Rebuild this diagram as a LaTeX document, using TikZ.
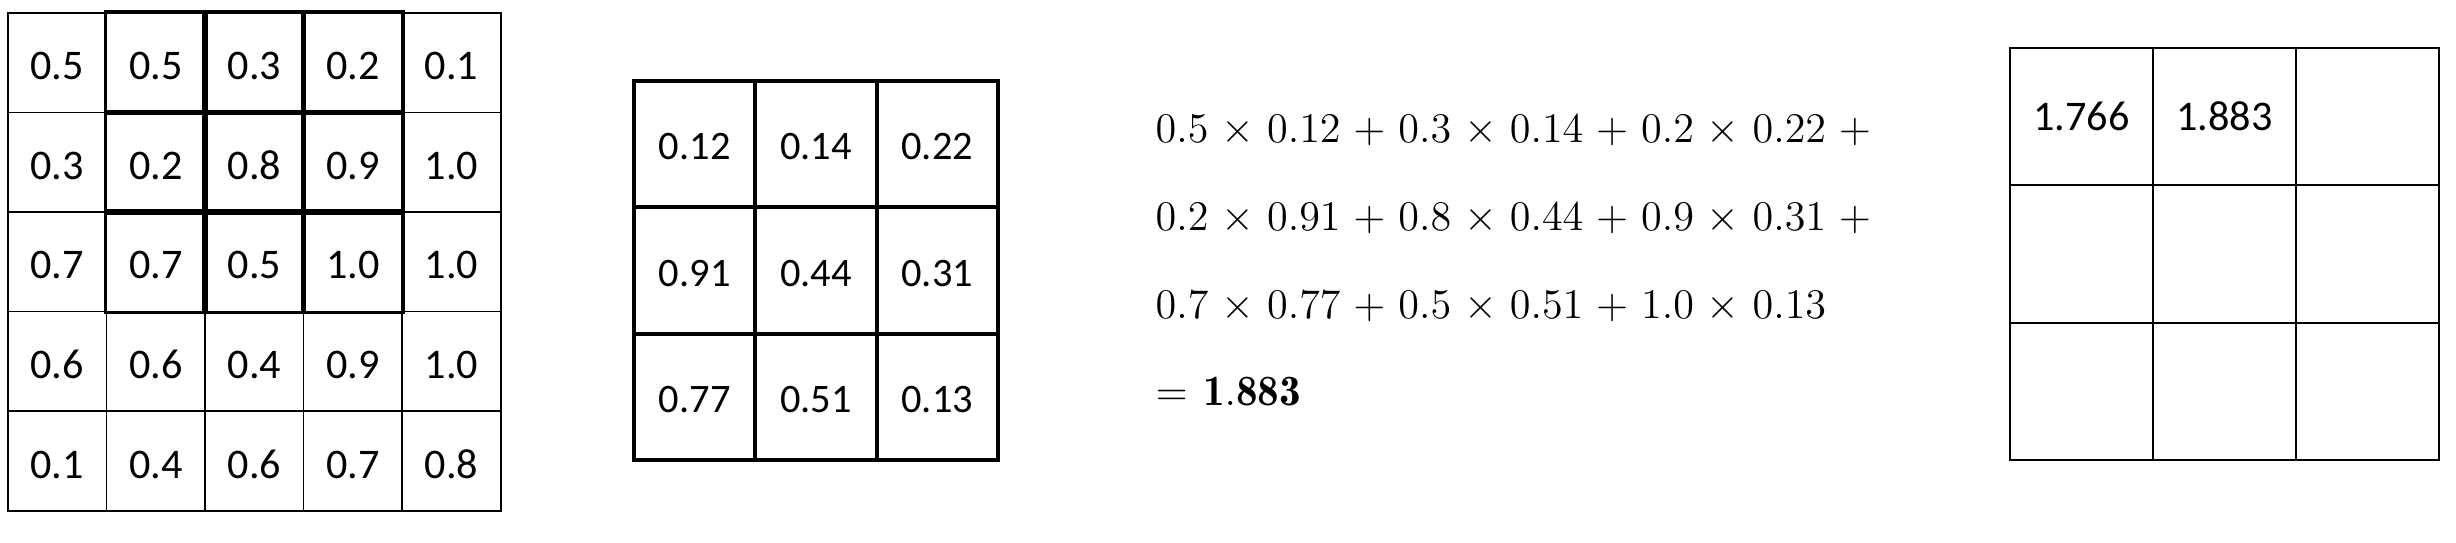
\documentclass[tikz,border=0pt]{standalone}
\usepackage{fontspec}
\newfontfamily\cellfont{Carlito}
\usepackage{amsmath}
\newcommand\widesp{\medmuskip=5.5mu\relax\thickmuskip=6.5mu\relax}

\begin{document}
\begin{tikzpicture}[x=0.01cm, y=-0.01cm,
    cell/.style={draw, line width=0.45pt, inner sep=0pt, anchor=north west, text height=0.34cm, text depth=0pt,
        minimum width=0.986cm, minimum height=0.996cm, font=\cellfont\fontsize{12}{14}\selectfont},
    kcell/.style={draw, line width=1.15pt, inner sep=0pt, anchor=north west, text height=0.31cm, text depth=0pt,
        minimum width=1.213cm, minimum height=1.263cm, font=\cellfont\fontsize{11.5}{14}\selectfont},
    ocell/.style={draw, line width=0.55pt, inner sep=0pt, anchor=north west,
        minimum width=1.43cm, minimum height=1.373cm, font=\cellfont\fontsize{12}{14}\selectfont},
    window/.style={line width=1pt},
    eqline/.style={anchor=base west, inner sep=0pt, font=\fontsize{12.3}{15}\selectfont}]

    \useasboundingbox (0,0) rectangle (2456,542);

    % Input
    \foreach \row [count=\r] in {{0.5,0.5,0.3,0.2,0.1},{0.3,0.2,0.8,0.9,1.0},{0.7,0.7,0.5,1.0,1.0},{0.6,0.6,0.4,0.9,1.0},{0.1,0.4,0.6,0.7,0.8}}
        \foreach \v [count=\c] in \row
            \node[cell] (a\r\c) at ({7+98.6*(\c-1)},{12+99.6*(\r-1)}) {\v};
    \foreach \r in {1,2,3}
        \foreach \c in {2,3,4}
            \draw[window] (a\r\c.north west) rectangle (a\r\c.south east);

    % Kernel
    \foreach \row [count=\r] in {{0.12,0.14,0.22},{0.91,0.44,0.31},{0.77,0.51,0.13}}
        \foreach \v [count=\c] in \row
            \node[kcell] (k\r\c) at ({632+121.3*(\c-1)},{79+126.3*(\r-1)}) {\v};

    % Sum
    \node[eqline] (eq1) at (1155,142) {$\widesp 0.5\times0.12+0.3\times0.14+0.2\times0.22+{}$};
    \node[eqline] (eq2) at (1155,230) {$\widesp 0.2\times0.91+0.8\times0.44+0.9\times0.31+{}$};
    \node[eqline] (eq3) at (1155,318) {$\widesp 0.7\times0.77+0.5\times0.51+1.0\times0.13$};
    \node[eqline] (eq4) at (1155,405) {$\widesp =\mathbf{1.883}$};

    % Output
    \foreach \row [count=\r] in {{1.766,1.883,{}},{{},{},{}},{{},{},{}}}
        \foreach \v [count=\c] in \row
            \node[ocell] (o\r\c) at ({2009+143*(\c-1)},{47+137.3*(\r-1)}) {\v};
\end{tikzpicture}
\end{document}
